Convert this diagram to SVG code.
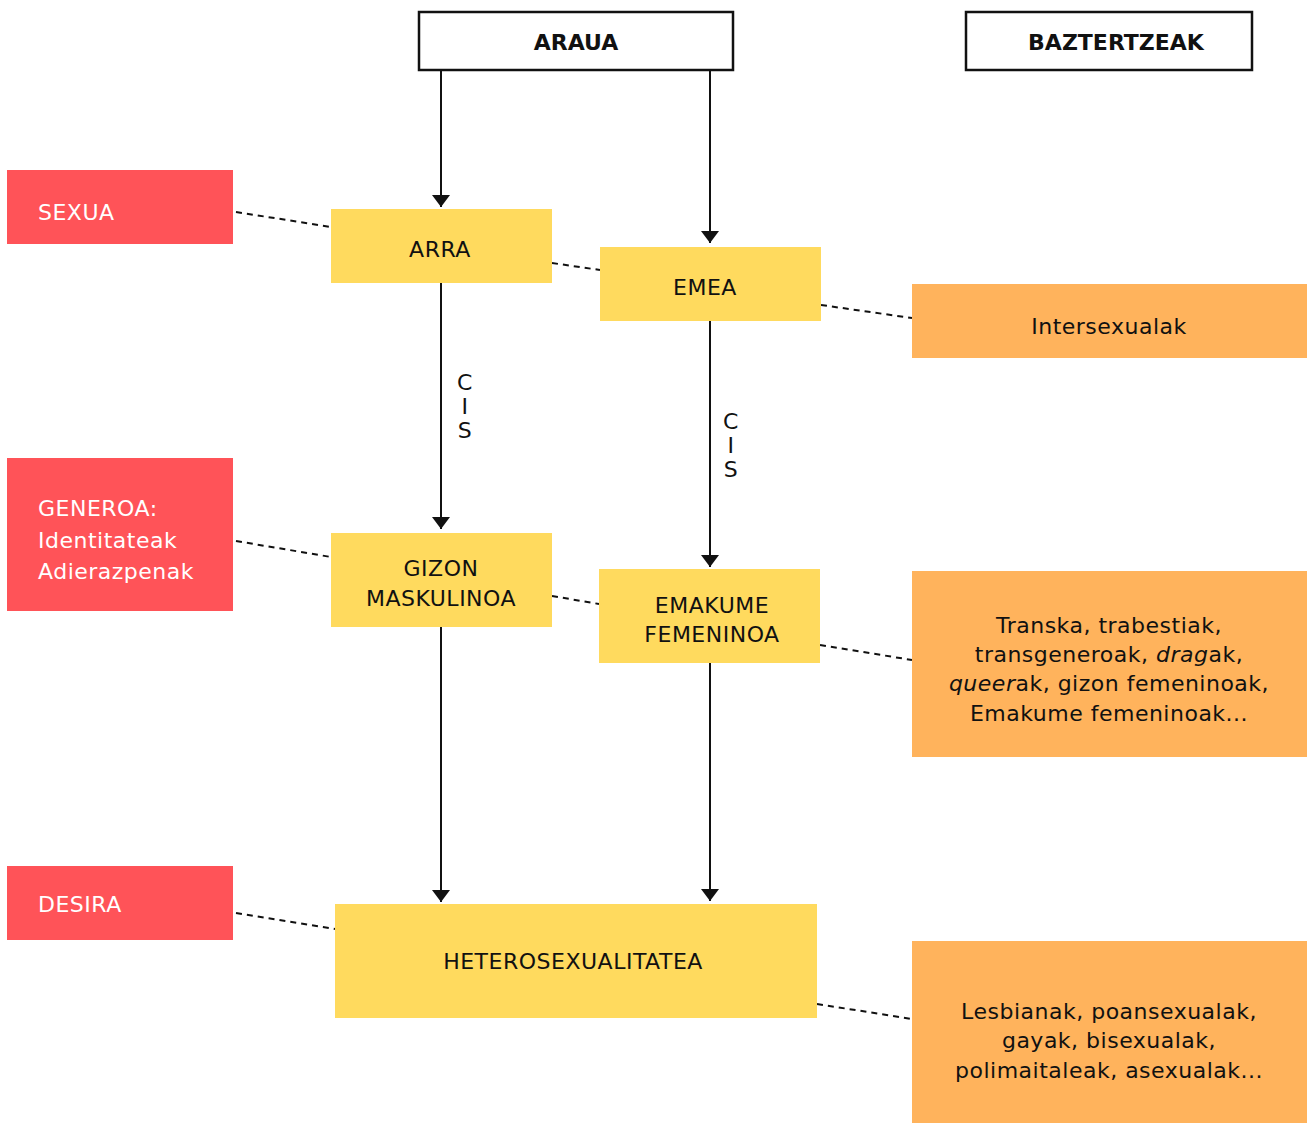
<svg xmlns="http://www.w3.org/2000/svg" width="1309" height="1124" viewBox="0 0 1309 1124">
<style>
text{font-family:"DejaVu Sans","Noto Sans",sans-serif;font-size:22px;letter-spacing:0.5px;fill:#111}
.t{text-anchor:middle}
.w{fill:#fff}
.b{font-weight:bold;letter-spacing:0}
.red{fill:#FF5358}
.yel{fill:#FFDA5E}
.ora{fill:#FFB35C}
.hd{fill:#fff;stroke:#111;stroke-width:2.5}
.ar{stroke:#111;stroke-width:2;fill:none;marker-end:url(#ah)}
.ds{stroke:#111;stroke-width:2;fill:none;stroke-dasharray:6 5}
</style>
<defs>
<marker id="ah" viewBox="0 0 12 18" refX="12" refY="9" markerWidth="12" markerHeight="18" markerUnits="userSpaceOnUse" orient="auto">
<path d="M0,0 L12,9 L0,18 Z" fill="#111"/>
</marker>
</defs>
<g id="connectors">
<path class="ar" d="M441,70 V207"/>
<path class="ar" d="M710,70 V243"/>
<path class="ar" d="M441,283 V529"/>
<path class="ar" d="M710,321 V567"/>
<path class="ar" d="M441,627 V902"/>
<path class="ar" d="M710,663 V901"/>
<path class="ds" d="M236,212 L331,227"/>
<path class="ds" d="M552,263 L600,270"/>
<path class="ds" d="M821,305 L912,318"/>
<path class="ds" d="M236,541 L331,557"/>
<path class="ds" d="M552,596 L599,604"/>
<path class="ds" d="M820,645 L912,660"/>
<path class="ds" d="M236,913 L335,929"/>
<path class="ds" d="M817,1004 L912,1019"/>
<text id="cis1" class="t"><tspan x="465" y="390">C</tspan><tspan x="465" dy="24">I</tspan><tspan x="465" dy="24">S</tspan></text>
<text id="cis2" class="t"><tspan x="731" y="429">C</tspan><tspan x="731" dy="24">I</tspan><tspan x="731" dy="24">S</tspan></text>
</g>
<g id="araua"><rect class="hd" x="419" y="12" width="314" height="58"/><text class="t b" x="576" y="50">ARAUA</text></g>
<g id="baztertzeak"><rect class="hd" x="966" y="12" width="286" height="58"/><text class="t b" x="1116" y="50">BAZTERTZEAK</text></g>
<g id="sexua"><rect class="red" x="7" y="170" width="226" height="74"/><text class="w" x="38" y="220">SEXUA</text></g>
<g id="arra"><rect class="yel" x="331" y="209" width="221" height="74"/><text class="t" x="440" y="257">ARRA</text></g>
<g id="emea"><rect class="yel" x="600" y="247" width="221" height="74"/><text class="t" x="705" y="295">EMEA</text></g>
<g id="intersexualak"><rect class="ora" x="912" y="284" width="395" height="74"/><text class="t" x="1109" y="334">Intersexualak</text></g>
<g id="generoa"><rect class="red" x="7" y="458" width="226" height="153"/><text class="w"><tspan x="38" y="516">GENEROA:</tspan><tspan x="38" y="548">Identitateak</tspan><tspan x="38" y="579">Adierazpenak</tspan></text></g>
<g id="gizon"><rect class="yel" x="331" y="533" width="221" height="94"/><text class="t"><tspan x="441" y="576">GIZON</tspan><tspan x="441" y="606">MASKULINOA</tspan></text></g>
<g id="emakume"><rect class="yel" x="599" y="569" width="221" height="94"/><text class="t"><tspan x="712" y="613">EMAKUME</tspan><tspan x="712" y="642">FEMENINOA</tspan></text></g>
<g id="transka"><rect class="ora" x="912" y="571" width="395" height="186"/><text class="t"><tspan x="1109" y="633">Transka, trabestiak,</tspan><tspan x="1109" y="662">transgeneroak, <tspan font-style="italic">drag</tspan>ak,</tspan><tspan x="1109" y="691"><tspan font-style="italic">queer</tspan>ak, gizon femeninoak,</tspan><tspan x="1109" y="721">Emakume femeninoak...</tspan></text></g>
<g id="desira"><rect class="red" x="7" y="866" width="226" height="74"/><text class="w" x="38" y="912">DESIRA</text></g>
<g id="hetero"><rect class="yel" x="335" y="904" width="482" height="114"/><text class="t" x="573" y="969">HETEROSEXUALITATEA</text></g>
<g id="lesbianak"><rect class="ora" x="912" y="941" width="395" height="182"/><text class="t"><tspan x="1109" y="1019">Lesbianak, poansexualak,</tspan><tspan x="1109" y="1048">gayak, bisexualak,</tspan><tspan x="1109" y="1078">polimaitaleak, asexualak...</tspan></text></g>
</svg>
